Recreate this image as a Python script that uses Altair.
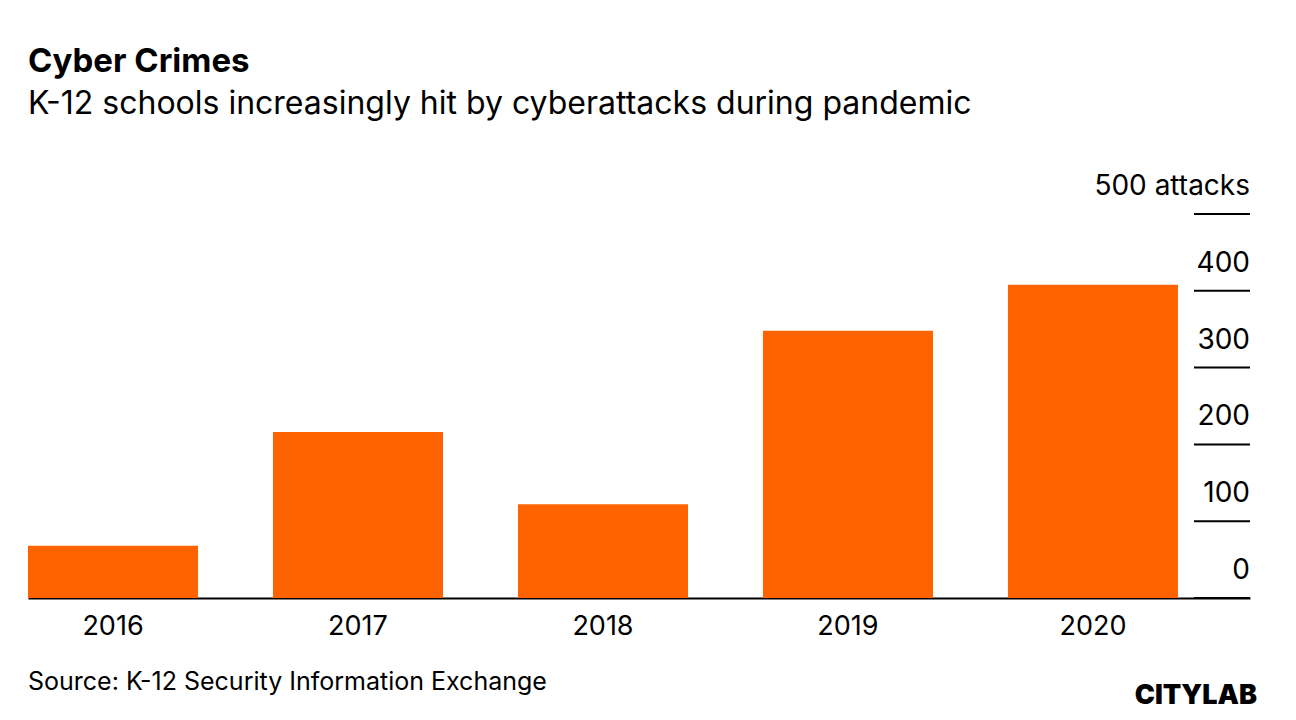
import altair as alt
import pandas as pd

years = ["2016", "2017", "2018", "2019", "2020"]
attacks = [68, 216, 122, 348, 408]
tick_values = [0, 100, 200, 300, 400, 500]
tick_labels = ["0", "100", "200", "300", "400", "500 attacks"]
title_text = "Cyber Crimes"
subtitle_text = "K-12 schools increasingly hit by cyberattacks during pandemic"
source_text = ["Source: K-12 Security Information Exchange"]
brand_text = ["CITYLAB"]

FONT = "Inter"
W, H = 1222, 384

bars_df = pd.DataFrame({"year": years, "attacks": attacks})
ticks_df = pd.DataFrame({"value": tick_values, "label": tick_labels})
src_df = pd.DataFrame({"t": source_text})
brand_df = pd.DataFrame({"t": brand_text})

y_scale = alt.Scale(domain=[0, 500], nice=False)

bars = alt.Chart(bars_df).mark_bar(color="#ff6300").encode(
    x=alt.X(
        "year:N",
        scale=alt.Scale(paddingInner=0.306, paddingOuter=0.147, align=0),
        axis=alt.Axis(
            title=None, labelAngle=0, ticks=False, grid=False,
            domainColor="black", domainWidth=2,
            labelFontSize=27, labelColor="black", labelFont=FONT,
            labelPadding=15,
        ),
    ),
    y=alt.Y("attacks:Q", scale=y_scale, axis=None),
)

rules = alt.Chart(ticks_df).mark_rule(color="black", strokeWidth=2).encode(
    y=alt.Y("value:Q", scale=y_scale, axis=None),
    x=alt.value(1166),
    x2=alt.value(1222),
)

labels = alt.Chart(ticks_df).mark_text(
    align="right", baseline="alphabetic", dy=-19,
    fontSize=28, font=FONT, color="black",
).encode(
    y=alt.Y("value:Q", scale=y_scale, axis=None),
    x=alt.value(1222),
    text="label:N",
)

src = alt.Chart(src_df).mark_text(
    align="left", baseline="alphabetic", fontSize=25, font=FONT, color="black",
).encode(x=alt.value(0), y=alt.value(476), text="t:N")

brand = alt.Chart(brand_df).mark_text(
    align="right", baseline="alphabetic", fontSize=27, font=FONT,
    fontWeight=900, color="black",
).encode(x=alt.value(1229), y=alt.value(490), text="t:N")

chart = alt.layer(bars, rules, labels, src, brand).properties(
    width=W,
    height=H,
    title=alt.TitleParams(
        text=title_text,
        subtitle=subtitle_text,
        anchor="start",
        font=FONT,
        fontSize=33,
        fontWeight="bold",
        color="black",
        subtitleFont=FONT,
        subtitleFontSize=32,
        subtitleColor="black",
        subtitlePadding=10,
        offset=53,
    ),
    padding={"left": 20, "top": 38, "right": 10, "bottom": 10},
    background="white",
).configure_view(stroke=None)

chart.save("out.html", embed_options={"renderer": "svg", "actions": False})
